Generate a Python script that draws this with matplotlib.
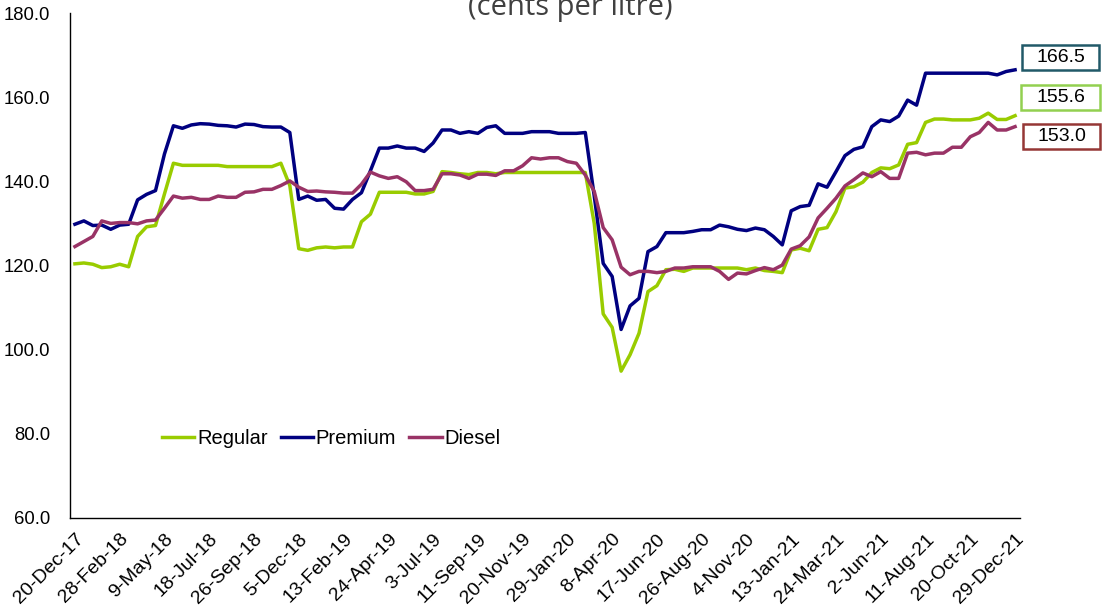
import numpy as np
import matplotlib
matplotlib.use("Agg")
import matplotlib.pyplot as plt
from matplotlib.patches import Rectangle

# ---- data (biweekly, cents per litre) ----
tick_labels = ["20-Dec-17", "28-Feb-18", "9-May-18", "18-Jul-18", "26-Sep-18", "5-Dec-18",
               "13-Feb-19", "24-Apr-19", "3-Jul-19", "11-Sep-19", "20-Nov-19", "29-Jan-20",
               "8-Apr-20", "17-Jun-20", "26-Aug-20", "4-Nov-20", "13-Jan-21", "24-Mar-21",
               "2-Jun-21", "11-Aug-21", "20-Oct-21", "29-Dec-21"]

regular = [120.4, 120.6, 120.3, 119.5, 119.7, 120.3, 119.7, 126.9, 129.2, 129.5,
           137.0, 144.3, 143.8, 143.8, 143.8, 143.8, 143.8, 143.5, 143.5, 143.5,
           143.5, 143.5, 143.5, 144.3, 139.0, 124.0, 123.6, 124.2, 124.4, 124.2,
           124.4, 124.4, 130.4, 132.2, 137.4, 137.4, 137.4, 137.4, 137.0, 137.0,
           137.6, 142.3, 142.1, 141.8, 141.6, 142.1, 142.1, 141.8, 142.1, 142.1,
           142.1, 142.1, 142.1, 142.1, 142.1, 142.1, 142.1, 142.1, 130.0, 108.5,
           105.3, 94.9, 98.8, 103.9, 113.8, 115.2, 119.0, 119.1, 118.6, 119.4,
           119.4, 119.4, 119.4, 119.4, 119.4, 119.0, 119.4, 118.8, 118.6, 118.3,
           123.7, 124.1, 123.5, 128.6, 129.0, 132.8, 138.4, 138.7, 139.8, 142.1,
           143.2, 143.0, 143.9, 148.8, 149.2, 154.0, 154.8, 154.8, 154.6, 154.6,
           154.6, 155.0, 156.2, 154.7, 154.7, 155.6]

premium = [129.8, 130.6, 129.5, 129.6, 128.6, 129.6, 129.8, 135.6, 136.9, 137.8,
           146.5, 153.2, 152.6, 153.4, 153.7, 153.6, 153.3, 153.2, 152.9, 153.6,
           153.5, 153.0, 152.9, 152.9, 151.6, 135.7, 136.5, 135.5, 135.7, 133.6,
           133.4, 135.7, 137.3, 142.5, 147.9, 147.9, 148.4, 147.9, 147.9, 147.1,
           149.1, 152.2, 152.2, 151.4, 151.8, 151.4, 152.8, 153.2, 151.4, 151.4,
           151.4, 151.8, 151.8, 151.8, 151.4, 151.4, 151.4, 151.6, 136.5, 120.5,
           117.4, 104.8, 110.4, 112.2, 123.3, 124.5, 127.8, 127.8, 127.8, 128.1,
           128.5, 128.5, 129.6, 129.2, 128.6, 128.3, 128.9, 128.5, 126.9, 124.9,
           133.0, 134.0, 134.3, 139.4, 138.6, 142.3, 146.1, 147.6, 148.2, 153.0,
           154.6, 154.2, 155.5, 159.3, 158.1, 165.7, 165.7, 165.7, 165.7, 165.7,
           165.7, 165.7, 165.7, 165.3, 166.1, 166.5]

diesel = [124.5, 125.7, 126.9, 130.6, 130.0, 130.2, 130.2, 129.9, 130.6, 130.8,
          133.6, 136.5, 136.0, 136.2, 135.7, 135.7, 136.5, 136.2, 136.2, 137.4,
          137.5, 138.1, 138.1, 139.0, 140.1, 138.6, 137.6, 137.7, 137.5, 137.4,
          137.2, 137.2, 139.3, 142.2, 141.3, 140.7, 141.1, 139.9, 137.8, 137.8,
          138.1, 141.8, 141.8, 141.5, 140.7, 141.7, 141.7, 141.4, 142.5, 142.5,
          143.7, 145.6, 145.3, 145.6, 145.6, 144.7, 144.3, 141.5, 137.6, 129.0,
          126.1, 119.6, 117.8, 118.6, 118.6, 118.3, 118.6, 119.4, 119.4, 119.7,
          119.7, 119.7, 118.6, 116.7, 118.2, 118.0, 118.8, 119.5, 119.0, 120.1,
          123.9, 124.7, 126.8, 131.3, 133.6, 136.0, 138.9, 140.4, 142.0, 141.1,
          142.3, 140.7, 140.7, 146.7, 146.9, 146.3, 146.7, 146.7, 148.1, 148.1,
          150.6, 151.6, 154.0, 152.2, 152.2, 153.0]

series_names = ["Regular", "Premium", "Diesel"]
series_colors = ["#99CC00", "#000080", "#993366"]
box_edges = ["#92D050", "#215968", "#953735"]

plt.rcParams['font.family'] = ['Liberation Sans', 'DejaVu Sans']

fig = plt.figure(figsize=(11.02, 6.13), dpi=100)
W, H = 1102, 613
ax = fig.add_axes([70 / W, 1 - 518 / H, 950 / W, 505 / H])

x = np.arange(len(regular))
lines = []
for vals, name, col in zip([regular, premium, diesel], series_names, series_colors):
    ln, = ax.plot(x, vals, color=col, lw=2.5, label=name, solid_joinstyle='round')
    lines.append(ln)

ax.set_xlim(-0.55, len(regular) - 0.45)
ax.set_ylim(60, 180)
ax.set_yticks(np.arange(60, 181, 20))
ax.set_yticklabels([f"{v:.1f}" for v in np.arange(60, 181, 20)])
ax.set_xticks(x[::5])
ax.set_xticklabels(tick_labels, rotation=45, ha='right', va='top', rotation_mode='anchor')
ax.tick_params(axis='y', length=0, pad=14.4, labelsize=13.3)
ax.tick_params(axis='x', length=0, pad=9, labelsize=14)
for s in ['top', 'right']:
    ax.spines[s].set_visible(False)
for s in ['left', 'bottom']:
    ax.spines[s].set_linewidth(1.0)
    ax.spines[s].set_color('black')

leg = ax.legend(handles=lines, loc='center', bbox_to_anchor=(0.275, 0.158), ncol=3,
                frameon=False, fontsize=14.5, handlelength=1.6, handletextpad=0.15,
                columnspacing=0.65)

# end-value labels (boxes in figure pixels: left, top, right, bottom)
last_vals = [regular[-1], premium[-1], diesel[-1]]
boxes = [(1021, 85, 1100, 110), (1022, 45, 1099, 70), (1023, 124, 1100, 149)]
for v, ec, (l, t, r, b) in zip(last_vals, box_edges, boxes):
    fig.patches.append(Rectangle((l / W, 1 - b / H), (r - l) / W, (b - t) / H,
                                 transform=fig.transFigure, fc='white', ec=ec, lw=1.8))
    fig.text((l + r) / 2 / W, 1 - (t + b) / 2 / H, f"{v:.1f}", ha='center', va='center',
             fontsize=14)

# title (cut off at the top in the original)
fig.text(570 / W, 1 - 15 / H, "(cents per litre)", ha='center', va='baseline',
         fontsize=21, color='#404040', family=['Open Sans', 'DejaVu Sans'])

fig.savefig("out.png", dpi=100)
